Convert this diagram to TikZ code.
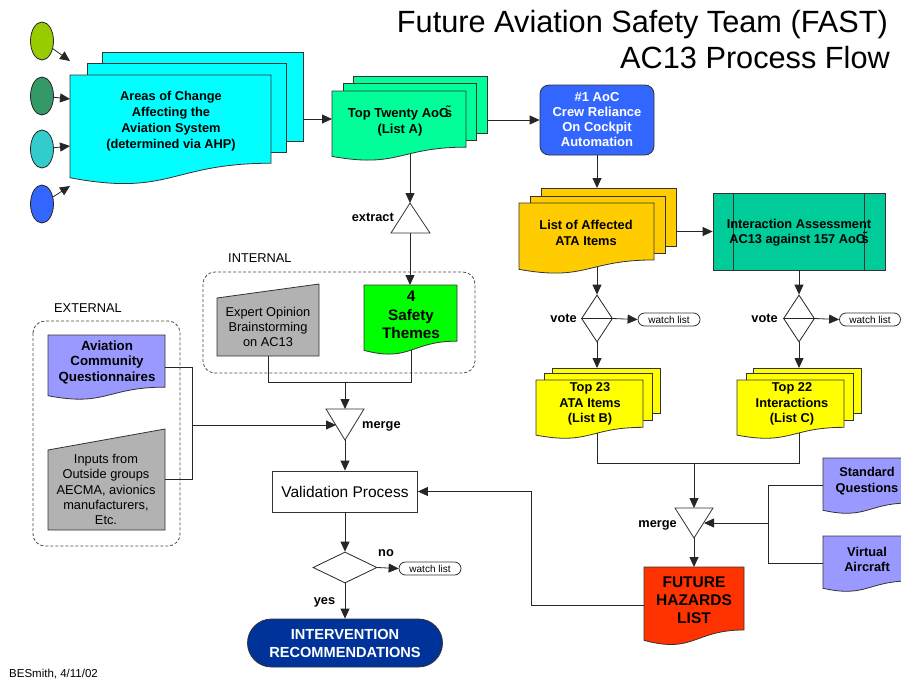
\documentclass[tikz,border=0pt]{standalone}
\usepackage{fontspec}
\setmainfont{Liberation Sans}
\usetikzlibrary{arrows.meta,shapes.geometric}
\definecolor{cAreas}{HTML}{00FFFF}
\definecolor{cTop}{HTML}{00FF99}
\definecolor{cAoc}{HTML}{3366FF}
\definecolor{cAta}{HTML}{FFCC00}
\definecolor{cInter}{HTML}{00CC99}
\definecolor{cYel}{HTML}{FFFF00}
\definecolor{cSafe}{HTML}{00FF00}
\definecolor{cGray}{HTML}{B2B2B2}
\definecolor{cLav}{HTML}{9999FF}
\definecolor{cRed}{HTML}{FF3300}
\definecolor{cNavy}{HTML}{003399}
\definecolor{cOne}{HTML}{99CC00}
\definecolor{cTwo}{HTML}{339966}
\definecolor{cThree}{HTML}{33CCCC}
\definecolor{cFour}{HTML}{3366FF}
\newcommand{\aocs}{\kern-0.28em\~{s}}
\newcommand{\docshape}[5][]{%
  \filldraw[shapeline,#1] ({#2},{#3}) -- ({#2+#4},{#3}) -- ({#2+#4},{#3+0.802*#5})
   .. controls ({#2+0.5*#4},{#3+0.802*#5}) and ({#2+0.5*#4},{#3+1.107*#5}) .. ({#2},{#3+0.934*#5}) -- cycle;}
\newcommand{\sheet}[5][]{\filldraw[shapeline,#1] (#2,#3) rectangle (#4,#5);}
\begin{document}
\begin{tikzpicture}[x=1pt,y=-1pt,
  shapeline/.style={draw=black!80,line width=0.8pt},
  conn/.style={draw=black!85,line width=0.8pt},
  arr/.style={conn,-{Triangle[length=10pt,width=9pt]}},
  bl/.style={font=\fontsize{12.8}{15.5}\selectfont\bfseries,align=center,inner sep=0pt},
  rg/.style={font=\fontsize{12.8}{15.2}\selectfont,align=center,inner sep=0pt},
  watch/.style={draw=black!80,line width=0.8pt,fill=white,rounded corners=6.5pt,minimum width=62pt,minimum height=13pt,inner sep=0pt,font=\fontsize{10}{12}\selectfont},
  dashbox/.style={draw=black!70,line width=0.8pt,dash pattern=on 3pt off 2pt,rounded corners=12pt},
  circ/.style={ellipse,draw=black!85,line width=0.8pt,minimum width=23pt,minimum height=38pt,inner sep=0pt},
  vdiam/.style={diamond,draw=black!85,line width=0.8pt,fill=white,inner sep=0pt}
]
\useasboundingbox (0,0) rectangle (901,680);
\fill[white] (0,0) rectangle (901,680);
\clip (0,0) rectangle (901,680);

% title
\node[anchor=base east,font=\fontsize{30.7}{36}\selectfont,inner sep=0pt] (title1) at (888,32) {Future Aviation Safety Team (FAST)};
\node[anchor=base east,font=\fontsize{30.7}{36}\selectfont,inner sep=0pt] (title2) at (890,68) {AC13 Process Flow};

% circles
\node[circ,fill=cOne] (c1) at (42,41) {};
\node[circ,fill=cTwo] (c2) at (42,96) {};
\node[circ,fill=cThree] (c3) at (42,149) {};
\node[circ,fill=cFour] (c4) at (42,204) {};

% Areas of change (multi-document)
\sheet[fill=cAreas]{102}{52}{303}{141}
\sheet[fill=cAreas]{87}{63}{286}{152}
\docshape[fill=cAreas]{70}{75}{201}{110}
\node[bl,font=\fontsize{12.8}{16}\selectfont\bfseries] (areas) at (171,121) {Areas of Change\\Affecting the\\Aviation System\\(determined via AHP)};
\coordinate (a1) at (70,61);
\coordinate (a2) at (70,99);
\coordinate (a3) at (70,146);
\coordinate (a4) at (70,186);
\draw[arr] (c1) -- (a1);
\draw[arr] (c2) -- (a2);
\draw[arr] (c3) -- (a3);
\draw[arr] (c4) -- (a4);

% Top twenty
\sheet[fill=cTop]{353}{76}{487}{133}
\sheet[fill=cTop]{343}{83}{476}{140}
\docshape[fill=cTop]{332}{91}{134}{70}
\node[bl,font=\fontsize{13}{16}\selectfont\bfseries] (top20) at (400,121) {Top Twenty AoC\aocs\\(List A)};
\coordinate (areasOut) at (303,119);
\coordinate (top20In) at (332,119);
\draw[arr] (areasOut) -- (top20In);

% #1 AoC
\node[draw=black!80,line width=0.8pt,rounded corners=9pt,fill=cAoc,minimum width=114pt,minimum height=70pt,
  text=white,font=\fontsize{13}{15}\selectfont\bfseries,align=center,inner sep=0pt] (aoc1) at (597,120)
  {\#1 AoC\\Crew Reliance\\On Cockpit\\Automation};
\coordinate (top20Out) at (487,120);
\draw[arr] (top20Out) -- (aoc1.west);

% List of affected ATA items
\sheet[fill=cAta]{541}{188}{676}{246}
\sheet[fill=cAta]{530}{196}{665}{253}
\docshape[fill=cAta]{519}{203}{135}{71}
\node[bl] (ata) at (586,233) {List of Affected\\ATA Items};
\coordinate (ataIn) at (597,188);
\draw[arr] (aoc1.south) -- (ataIn);

% Interaction assessment
\node[draw=black!80,line width=0.8pt,fill=cInter,minimum width=172pt,minimum height=77pt,inner sep=0pt] (inter) at (799,231.5) {};
\draw[shapeline] (733,193) -- (733,270) (864,193) -- (864,270);
\node[bl] (intertext) at (799,232.5) {Interaction Assessment\\AC13 against 157 AoC\aocs};
\coordinate (ataOut) at (676,231.5);
\draw[arr] (ataOut) -- (inter.west);

% votes
\node[vdiam,minimum width=31pt,minimum height=47pt] (d1) at (597,318.5) {};
\draw[conn] (d1.west) -- (d1.east);
\node[vdiam,minimum width=31pt,minimum height=47pt] (d2) at (799,318.5) {};
\draw[conn] (d2.west) -- (d2.east);
\node[bl,anchor=east] (vote1) at (577,318) {vote};
\node[bl,anchor=east] (vote2) at (778,318) {vote};
\node[watch] (w1) at (669,319.5) {watch list};
\node[watch,minimum width=61pt] (w2) at (870,319.5) {watch list};
\coordinate (ataBot) at (597,267);
\draw[arr] (ataBot) -- (d1.north);
\draw[arr] (inter.south) -- (d2.north);
\draw[arr] (d1.east) -- (w1.west);
\draw[arr] (d2.east) -- (w2.west);

% Top 23 and Top 22
\sheet[fill=cYel]{552}{368}{660}{413}
\sheet[fill=cYel]{544}{373}{652}{420}
\docshape[fill=cYel]{536}{380}{107}{59}
\node[bl] (top23) at (590,404) {Top 23\\ATA Items\\(List B)};
\sheet[fill=cYel]{753}{368}{861}{413}
\sheet[fill=cYel]{746}{373}{853}{420}
\docshape[fill=cYel]{737}{380}{107}{59}
\node[bl] (top22) at (792,404) {Top 22\\Interactions\\(List C)};
\coordinate (t23In) at (597,368);
\coordinate (t22In) at (799,368);
\draw[arr] (d1.south) -- (t23In);
\draw[arr] (d2.south) -- (t22In);

% right merge
\coordinate (m2a) at (675,508);
\coordinate (m2b) at (713,508);
\coordinate (m2tip) at (694,538);
\filldraw[shapeline,fill=white] (m2a) -- (m2b) -- (m2tip) -- cycle;
\node[bl,anchor=east] (merge2) at (677,525) {merge};
\coordinate (t23Bot) at (597,433);
\coordinate (t22Bot) at (799,433);
\coordinate (joinR) at (694,463);
\coordinate (m2top) at (694,508);
\draw[conn] (t23Bot) -- (597,463) -- (799,463) -- (t22Bot);
\draw[arr] (joinR) -- (m2top);

% Standard questions / virtual aircraft
\docshape[fill=cLav]{823}{458}{88}{56}
\node[bl] (stdq) at (867,481) {Standard\\Questions};
\docshape[fill=cLav]{823}{536}{88}{56}
\node[bl] (virt) at (867,559.5) {Virtual\\Aircraft};
\coordinate (stdIn) at (823,485);
\coordinate (virtIn) at (823,563);
\coordinate (joinS) at (768,523);
\coordinate (m2right) at (704,523);
\draw[conn] (stdIn) -- (768,485) -- (768,563) -- (virtIn);
\draw[arr] (joinS) -- (m2right);

% Future hazards
\docshape[fill=cRed]{644}{567}{100}{78.5}
\node[bl,font=\fontsize{15.5}{18}\selectfont\bfseries] (fhl) at (694,600) {FUTURE\\HAZARDS\\LIST};
\coordinate (fhlIn) at (694,567);
\draw[arr] (m2tip) -- (fhlIn);

% Extract
\coordinate (exApex) at (410,203);
\filldraw[shapeline,fill=white] (exApex) -- (430,233) -- (391,233) -- cycle;
\node[bl,anchor=east] (extract) at (394,217) {extract};
\coordinate (top20Bot) at (410,154);
\coordinate (exBase) at (410,233);
\coordinate (safeIn) at (410,285);
\draw[arr] (top20Bot) -- (exApex);
\draw[arr] (exBase) -- (safeIn);

% Internal group
\draw[dashbox] (203,272) rectangle (475,373);
\node[rg,anchor=west] (internal) at (228,258) {INTERNAL};
\filldraw[shapeline,fill=cGray] (217,298) -- (319,284) -- (319,356) -- (217,356) -- cycle;
\node[rg,font=\fontsize{12.8}{15}\selectfont] (expert) at (268,327) {Expert Opinion\\Brainstorming\\on AC13};
\docshape[fill=cSafe]{364}{285}{93}{70}
\node[bl,font=\fontsize{15.3}{18.5}\selectfont\bfseries] (safety) at (411,315) {4\\Safety\\Themes};

% left merge
\coordinate (m1a) at (326,409);
\coordinate (m1b) at (364,409);
\coordinate (m1tip) at (345,440);
\filldraw[shapeline,fill=white] (m1a) -- (m1b) -- (m1tip) -- cycle;
\node[bl,anchor=west] (merge1) at (362,426) {merge};
\coordinate (expBot) at (268,356);
\coordinate (safeBot) at (411,350);
\coordinate (joinI) at (345,382);
\coordinate (m1top) at (345,409);
\draw[conn] (expBot) -- (268,382) -- (411,382) -- (safeBot);
\draw[arr] (joinI) -- (m1top);

% External group
\draw[dashbox] (33,321) rectangle (180,546);
\node[rg,anchor=west] (external) at (54,308) {EXTERNAL};
\docshape[fill=cLav]{48}{335}{117}{65}
\node[bl,font=\fontsize{13.3}{15.5}\selectfont\bfseries] (acq) at (107,362) {Aviation\\Community\\Questionnaires};
\filldraw[shapeline,fill=cGray] (48,450) -- (165,429) -- (165,530) -- (48,530) -- cycle;
\node[rg] (inputs) at (106,489.5) {Inputs from\\Outside groups\\AECMA, avionics\\manufacturers,\\Etc.};
\coordinate (acqOut) at (165,367);
\coordinate (inOut) at (165,479);
\coordinate (joinE) at (192,425);
\coordinate (m1left) at (336,425);
\draw[conn] (acqOut) -- (192,367) -- (192,479) -- (inOut);
\draw[arr] (joinE) -- (m1left);

% Validation
\node[draw=black!80,line width=0.8pt,fill=white,minimum width=145pt,minimum height=41pt,inner sep=0pt,
  font=\fontsize{15.5}{18}\selectfont] (val) at (345,491.5) {Validation Process};
\draw[arr] (m1tip) -- (val.north);
\coordinate (fhlOut) at (644,605);
\draw[arr] (fhlOut) -- (531,605) -- (531,491.5) -- (val.east);

% decision
\node[vdiam,minimum width=64pt,minimum height=31pt] (dec) at (345,567.5) {};
\node[bl] (no) at (386,553) {no};
\node[watch] (w3) at (430,568.5) {watch list};
\node[bl] (yes) at (324.5,602) {yes};
\node[draw=black!80,line width=0.8pt,fill=cNavy,rounded corners=24pt,minimum width=195pt,minimum height=48pt,
  inner sep=0pt,text=white,font=\fontsize{14.6}{18}\selectfont\bfseries,align=center] (interv) at (345,643)
  {INTERVENTION\\RECOMMENDATIONS};
\draw[arr] (val.south) -- (dec.north);
\draw[arr] (dec.east) -- (w3.west);
\draw[arr] (dec.south) -- (interv.north);

% footer
\node[anchor=base west,font=\fontsize{11.5}{13}\selectfont,inner sep=0pt] (author) at (9,677) {BESmith, 4/11/02};
\end{tikzpicture}
\end{document}
